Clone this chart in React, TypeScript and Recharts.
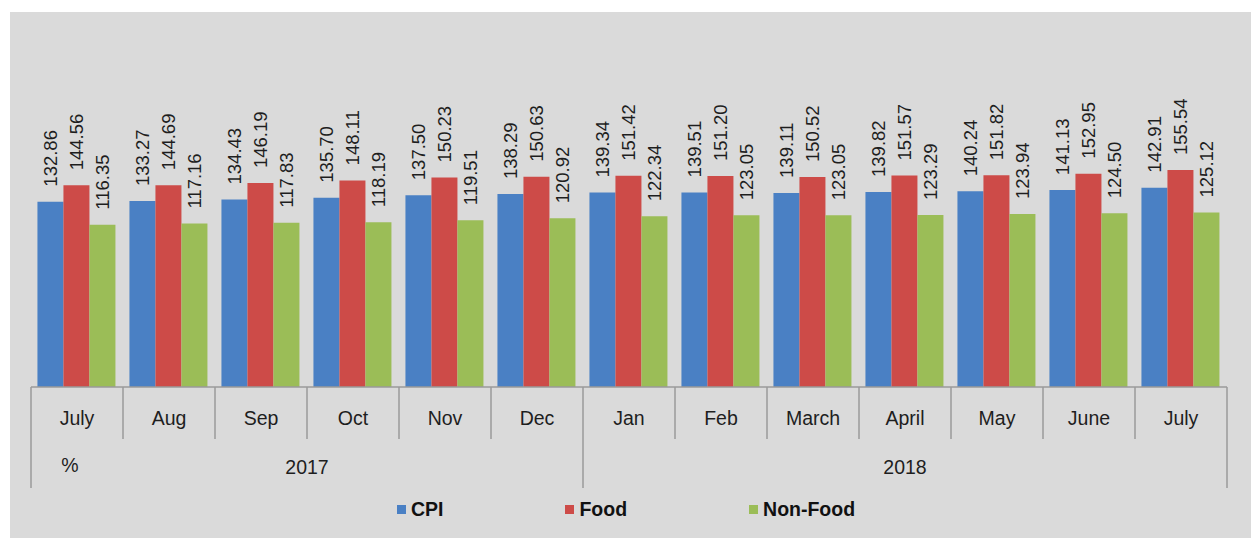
import { BarChart, Bar, XAxis, YAxis, Legend, LabelList } from 'recharts';

const months = ['July', 'Aug', 'Sep', 'Oct', 'Nov', 'Dec', 'Jan', 'Feb', 'March', 'April', 'May', 'June', 'July'];
const years = ['2017', '2017', '2017', '2017', '2017', '2017', '2018', '2018', '2018', '2018', '2018', '2018', '2018'];
const cpi = [132.86, 133.27, 134.43, 135.7, 137.5, 138.29, 139.34, 139.51, 139.11, 139.82, 140.24, 141.13, 142.91];
const food = [144.56, 144.69, 146.19, 148.11, 150.23, 150.63, 151.42, 151.2, 150.52, 151.57, 151.82, 152.95, 155.54];
const nonFood = [116.35, 117.16, 117.83, 118.19, 119.51, 120.92, 122.34, 123.05, 123.05, 123.29, 123.94, 124.5, 125.12];

const data = months.map((m, i) => ({
    key: `${m}-${i}`,
    month: m,
    year: years[i],
    cpi: cpi[i],
    food: food[i],
    nonFood: nonFood[i],
}));

const W = 1241;
const H = 526;
const margin = { top: 96, right: 24, left: 21, bottom: 0 };
const bw = (W - margin.left - margin.right) / months.length;

const FONT = '"Liberation Sans", Arial, sans-serif';
const TEXT = '#1e1e1e';
const LINE = '#9a9a9a';

const colors = { cpi: '#4a80c4', food: '#cd4b48', nonFood: '#9bbd57' };

function AxisTick(props: any) {
    const { x, y, payload } = props;
    const i = payload.index ?? props.index;
    const left = x - bw / 2;
    const first = i === 0 || years[i] !== years[i - 1];
    const last = i === months.length - 1;
    let groupSize = 0;
    if (first) {
        while (i + groupSize < years.length && years[i + groupSize] === years[i]) groupSize++;
    }
    return (
        <g>
            <line x1={left} y1={y} x2={left} y2={y + 101} stroke={LINE} strokeWidth={1.5} visibility={first ? 'visible' : 'hidden'} />
            {!first && <line x1={left} y1={y} x2={left} y2={y + 52} stroke={LINE} strokeWidth={1.5} />}
            {last && <line x1={left + bw} y1={y} x2={left + bw} y2={y + 101} stroke={LINE} strokeWidth={1.5} />}
            <text x={x} y={y + 31} textAnchor="middle" dominantBaseline="central" fill={TEXT} fontSize={19.5} fontFamily={FONT}>
                {payload.value}
            </text>
            {first && (
                <text x={left + (groupSize * bw) / 2} y={y + 80} textAnchor="middle" dominantBaseline="central" fill={TEXT} fontSize={19.5} fontFamily={FONT}>
                    {years[i]}
                </text>
            )}
            {i === 0 && (
                <text x={left + 39} y={y + 78} textAnchor="middle" dominantBaseline="central" fill={TEXT} fontSize={19.5} fontFamily={FONT}>
                    %
                </text>
            )}
        </g>
    );
}

function ValueLabel(props: any) {
    const { x, y, width, value } = props;
    const cx = x + width / 2;
    const cy = y - 15;
    return (
        <text
            x={cx}
            y={cy}
            transform={`rotate(-90, ${cx}, ${cy})`}
            textAnchor="start"
            dominantBaseline="central"
            fill={TEXT}
            fontSize={18.5}
            fontFamily={FONT}
        >
            {Number(value).toFixed(2)}
        </text>
    );
}

const legendItems = [
    { name: 'CPI', color: colors.cpi },
    { name: 'Food', color: colors.food },
    { name: 'Non-Food', color: colors.nonFood },
];

function ChartLegend() {
    return (
        <div style={{ display: 'flex', justifyContent: 'center', gap: 122, fontFamily: FONT, transform: 'translate(-3px, -4px)' }}>
            {legendItems.map((it) => (
                <div key={it.name} style={{ display: 'flex', alignItems: 'center' }}>
                    <span style={{ width: 9, height: 9, background: it.color, marginRight: 5 }} />
                    <span style={{ fontWeight: 'bold', fontSize: 19.5, color: '#111' }}>{it.name}</span>
                </div>
            ))}
        </div>
    );
}

export default function App() {
    return (
        <div style={{ position: 'absolute', left: 10, top: 12, width: W, height: H, background: '#dadada' }}>
            <BarChart width={W} height={H} data={data} margin={margin} barCategoryGap="7%" barGap={0}>
                <XAxis
                    dataKey="key"
                    tick={(p: any) => <AxisTick {...p} payload={{ ...p.payload, value: months[p.index ?? p.payload.index] }} />}
                    tickLine={false}
                    tickSize={0}
                    tickMargin={0}
                    axisLine={{ stroke: LINE, strokeWidth: 1.5 }}
                    height={115}
                    interval={0}
                />
                <YAxis hide domain={[0, 200]} />
                <Legend verticalAlign="bottom" height={36} content={() => <ChartLegend />} />
                <Bar dataKey="cpi" name="CPI" fill={colors.cpi} isAnimationActive={false}>
                    <LabelList dataKey="cpi" content={<ValueLabel />} />
                </Bar>
                <Bar dataKey="food" name="Food" fill={colors.food} isAnimationActive={false}>
                    <LabelList dataKey="food" content={<ValueLabel />} />
                </Bar>
                <Bar dataKey="nonFood" name="Non-Food" fill={colors.nonFood} isAnimationActive={false}>
                    <LabelList dataKey="nonFood" content={<ValueLabel />} />
                </Bar>
            </BarChart>
        </div>
    );
}
